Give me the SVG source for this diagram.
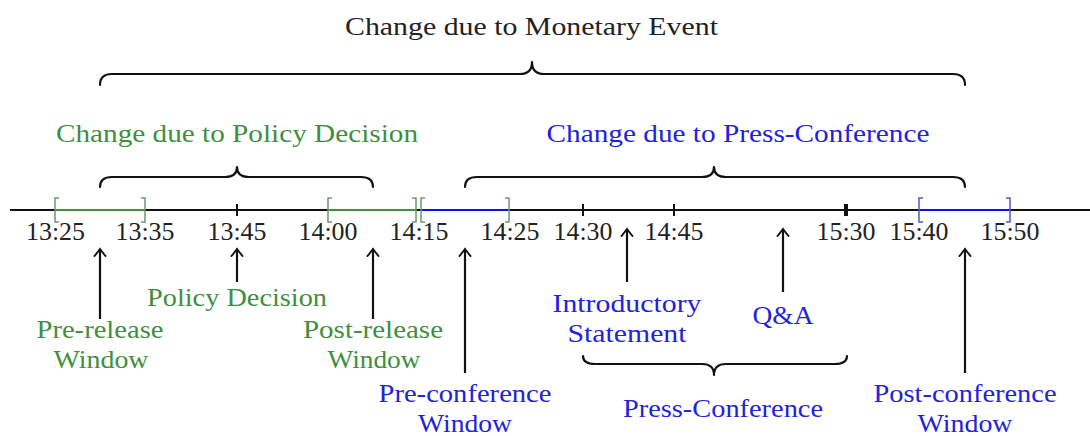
<svg xmlns="http://www.w3.org/2000/svg" width="1090" height="436" viewBox="0 0 1090 436">
<style>
text{font-family:"Liberation Serif","DejaVu Serif",serif;font-size:25px;text-anchor:middle}
.k{fill:#222}
.g{fill:#3f8f3f}
.b{fill:#2222dd}
.brace{fill:none;stroke:#111;stroke-width:2.2;stroke-linecap:round;stroke-linejoin:round}
.axis{stroke:#111;stroke-width:2}
.tick{stroke:#111;stroke-width:2}
.gw{stroke:#3f8f3f;stroke-width:2;fill:none}
.gb{stroke:#6a9a6a;stroke-width:1.5;fill:none}
.bw{stroke:#1010ee;stroke-width:2;fill:none}
.bb{stroke:#5555cc;stroke-width:1.5;fill:none}
.arr{stroke:#111;stroke-width:2.2;fill:none;marker-end:url(#hook)}
</style>
<defs>
<marker id="hook" markerUnits="userSpaceOnUse" viewBox="-9 -7 11 14" markerWidth="11" markerHeight="14" refX="0" refY="0" orient="auto">
<path d="M-7,-5.5 Q-2,-1.5 0,0 Q-2,1.5 -7,5.5" fill="none" stroke="#111" stroke-width="2" stroke-linecap="round"/>
</marker>
</defs>
<g id="title">
<text class="k" x="531.5" y="35" textLength="373" lengthAdjust="spacingAndGlyphs">Change due to Monetary Event</text>
</g>
<g id="brace-monetary">
<path class="brace" d="M100,85 Q100,74 112,74 L520,74 Q532,74 532,62 Q532,74 544,74 L953,74 Q965,74 965,85"/>
</g>
<g id="policy-title">
<text class="g" x="237" y="142" textLength="362" lengthAdjust="spacingAndGlyphs">Change due to Policy Decision</text>
</g>
<g id="press-title">
<text class="b" x="738" y="142" textLength="383" lengthAdjust="spacingAndGlyphs">Change due to Press-Conference</text>
</g>
<g id="brace-policy">
<path class="brace" d="M100,187 Q100,177 112,177 L225,177 Q237,177 237,167 Q237,177 249,177 L361,177 Q373,177 373,187"/>
</g>
<g id="brace-press">
<path class="brace" d="M465,187 Q465,177 477,177 L702,177 Q714,177 714,167 Q714,177 726,177 L953,177 Q965,177 965,187"/>
</g>
<g id="timeline">
<line class="axis" x1="10" y1="210" x2="1090" y2="210"/>
<line class="tick" x1="237" y1="204" x2="237" y2="216"/>
<line class="tick" x1="583" y1="204" x2="583" y2="216"/>
<line class="tick" x1="674" y1="204" x2="674" y2="216"/>
<line class="tick" x1="846" y1="204" x2="846" y2="216" style="stroke-width:4"/>
</g>
<g id="pre-release-window">
<line class="gw" x1="55" y1="210" x2="145" y2="210"/>
<path class="gb" d="M59,198 L55,198 L55,222 L59,222 M141,198 L145,198 L145,222 L141,222"/>
</g>
<g id="post-release-window">
<line class="gw" x1="328" y1="210" x2="416" y2="210"/>
<path class="gb" d="M332,198 L328,198 L328,222 L332,222 M412,198 L416,198 L416,222 L412,222"/>
</g>
<g id="pre-conference-window">
<line class="bw" x1="421" y1="210" x2="509" y2="210"/>
<path class="gb" d="M425,198 L421,198 L421,222 L425,222 M505,198 L509,198 L509,222 L505,222"/>
</g>
<g id="post-conference-window">
<line class="bw" x1="919" y1="210" x2="1010" y2="210"/>
<path class="bb" d="M923,198 L919,198 L919,222 L923,222 M1006,198 L1010,198 L1010,222 L1006,222"/>
</g>
<g id="time-labels">
<text class="k" x="55.5" y="240" textLength="59" lengthAdjust="spacingAndGlyphs">13:25</text>
<text class="k" x="145" y="240" textLength="59" lengthAdjust="spacingAndGlyphs">13:35</text>
<text class="k" x="237" y="240" textLength="59" lengthAdjust="spacingAndGlyphs">13:45</text>
<text class="k" x="328" y="240" textLength="59" lengthAdjust="spacingAndGlyphs">14:00</text>
<text class="k" x="419" y="240" textLength="59" lengthAdjust="spacingAndGlyphs">14:15</text>
<text class="k" x="510" y="240" textLength="59" lengthAdjust="spacingAndGlyphs">14:25</text>
<text class="k" x="583" y="240" textLength="59" lengthAdjust="spacingAndGlyphs">14:30</text>
<text class="k" x="674" y="240" textLength="59" lengthAdjust="spacingAndGlyphs">14:45</text>
<text class="k" x="846" y="240" textLength="59" lengthAdjust="spacingAndGlyphs">15:30</text>
<text class="k" x="919" y="240" textLength="59" lengthAdjust="spacingAndGlyphs">15:40</text>
<text class="k" x="1010" y="240" textLength="59" lengthAdjust="spacingAndGlyphs">15:50</text>
</g>
<g id="connectors">
<line class="arr" x1="100" y1="319" x2="100" y2="249"/>
<line class="arr" x1="237" y1="282" x2="237" y2="249"/>
<line class="arr" x1="373" y1="319" x2="373" y2="249"/>
<line class="arr" x1="465" y1="373" x2="465" y2="249"/>
<line class="arr" x1="627" y1="282" x2="627" y2="229"/>
<line class="arr" x1="783" y1="292" x2="783" y2="229"/>
<line class="arr" x1="965" y1="373" x2="965" y2="249"/>
</g>
<g id="policy-decision">
<text class="g" x="237" y="306" textLength="180" lengthAdjust="spacingAndGlyphs">Policy Decision</text>
</g>
<g id="pre-release">
<text class="g" x="100" y="338" textLength="127" lengthAdjust="spacingAndGlyphs">Pre-release</text>
<text class="g" x="101" y="368" textLength="95" lengthAdjust="spacingAndGlyphs">Window</text>
</g>
<g id="post-release">
<text class="g" x="373" y="338" textLength="140" lengthAdjust="spacingAndGlyphs">Post-release</text>
<text class="g" x="374" y="368" textLength="93" lengthAdjust="spacingAndGlyphs">Window</text>
</g>
<g id="pre-conference">
<text class="b" x="465" y="402" textLength="173" lengthAdjust="spacingAndGlyphs">Pre-conference</text>
<text class="b" x="465" y="432" textLength="94" lengthAdjust="spacingAndGlyphs">Window</text>
</g>
<g id="introductory-statement">
<text class="b" x="627" y="312" textLength="149" lengthAdjust="spacingAndGlyphs">Introductory</text>
<text class="b" x="627" y="342" textLength="119" lengthAdjust="spacingAndGlyphs">Statement</text>
</g>
<g id="qa">
<text class="b" x="783" y="324" textLength="61" lengthAdjust="spacingAndGlyphs">Q&amp;A</text>
</g>
<g id="brace-conference">
<path class="brace" d="M583,356 Q583,364 595,364 L702,364 Q714,364 714,375 Q714,364 726,364 L835,364 Q847,364 847,356"/>
</g>
<g id="press-conference">
<text class="b" x="723" y="417" textLength="200" lengthAdjust="spacingAndGlyphs">Press-Conference</text>
</g>
<g id="post-conference">
<text class="b" x="965" y="402" textLength="183" lengthAdjust="spacingAndGlyphs">Post-conference</text>
<text class="b" x="965" y="432" textLength="95" lengthAdjust="spacingAndGlyphs">Window</text>
</g>
</svg>
